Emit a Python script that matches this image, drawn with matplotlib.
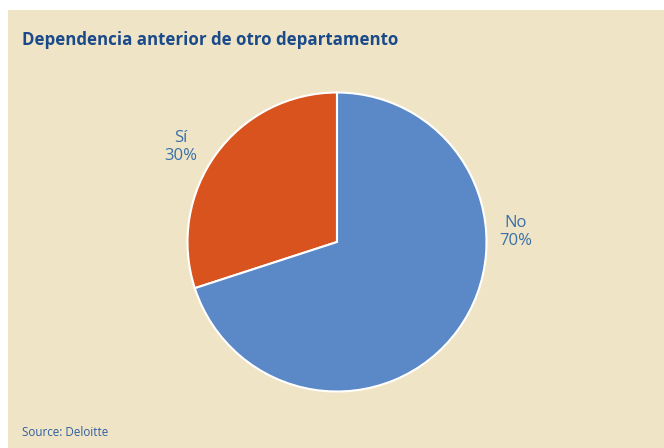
import matplotlib.pyplot as plt
from matplotlib.patches import Rectangle

labels = ["Sí", "No"]
values = [30, 70]
colors = ["#D9531E", "#5B88C6"]

W, H = 664, 448
fig = plt.figure(figsize=(W / 100, H / 100), dpi=100)
fig.patch.set_facecolor("white")
fig.patches.append(Rectangle((8 / W, 0), 1 - 8 / W, 1 - 10 / H, transform=fig.transFigure,
                             facecolor="#F0E4C6", edgecolor="none", zorder=-5))

# pie centred at (337, 242) px with radius 150 px
cx, cy, r = 337, 242, 151
ax = fig.add_axes([(cx - r) / W, (H - cy - r) / H, 2 * r / W, 2 * r / H], zorder=2)
ax.pie(values, colors=colors, startangle=90, counterclock=True,
       wedgeprops=dict(edgecolor="white", linewidth=1.5))
ax.set_xlim(-1.01, 1.01)
ax.set_ylim(-1.01, 1.01)
ax.set_aspect("equal")
ax.axis("off")

lab_col = "#3A6FA8"
fig.text(181 / W, 1 - 147 / H, "%s\n%d%%" % (labels[0], values[0]), ha="center", va="center",
         fontsize=12, color=lab_col, family="Open Sans", linespacing=1.15)
fig.text(516 / W, 1 - 232 / H, "%s\n%d%%" % (labels[1], values[1]), ha="center", va="center",
         fontsize=12, color=lab_col, family="Open Sans", linespacing=1.15)

fig.text(22 / W, 1 - 40 / H, "Dependencia anterior de otro departamento", ha="left", va="center",
         fontsize=12.2, fontweight="bold", color="#1A4A8A", family="Open Sans")
fig.text(22 / W, 1 - 432 / H, "Source: Deloitte", ha="left", va="center",
         fontsize=8.4, color="#2F5F9E", family="Open Sans")

fig.savefig("out.png", dpi=100)
